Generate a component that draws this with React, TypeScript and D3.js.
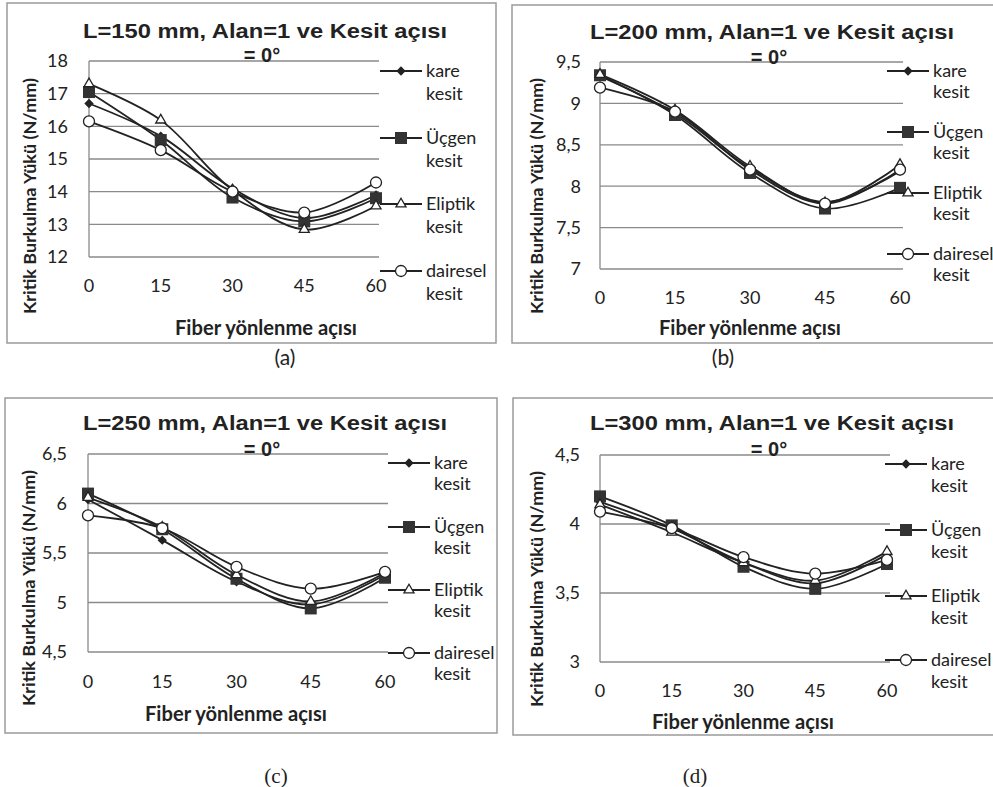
import React, { useEffect, useRef } from "react";
import * as d3 from "d3";

// fiber angles on the x axis
const angles = [0, 15, 30, 45, 60];
const seriesNames = ["kare", "Üçgen", "Eliptik", "dairesel"];

// L = 150 mm
const kareA = [16.7, 15.7, 14.1, 13.19, 13.9];
const ucgenA = [17.05, 15.58, 13.82, 13.09, 13.8];
const eliptikA = [17.3, 16.19, 14.05, 12.84, 13.56];
const daireselA = [16.15, 15.27, 14.0, 13.36, 14.28];

// L = 200 mm
const kareB = [9.33, 8.88, 8.22, 7.81, 8.18];
const ucgenB = [9.34, 8.86, 8.16, 7.73, 7.98];
const eliptikB = [9.35, 8.92, 8.24, 7.8, 8.26];
const daireselB = [9.19, 8.9, 8.2, 7.79, 8.2];

// L = 250 mm
const kareC = [6.04, 5.63, 5.21, 4.98, 5.28];
const ucgenC = [6.1, 5.74, 5.24, 4.94, 5.25];
const eliptikC = [6.06, 5.76, 5.28, 5.01, 5.3];
const daireselC = [5.88, 5.75, 5.36, 5.14, 5.31];

// L = 300 mm
const kareD = [4.16, 3.97, 3.72, 3.57, 3.78];
const ucgenD = [4.2, 3.99, 3.69, 3.53, 3.71];
const eliptikD = [4.14, 3.94, 3.72, 3.59, 3.8];
const daireselD = [4.09, 3.97, 3.76, 3.64, 3.74];

const ticksA = [12, 13, 14, 15, 16, 17, 18];
const ticksB = [7, 7.5, 8, 8.5, 9, 9.5];
const ticksC = [4.5, 5, 5.5, 6, 6.5];
const ticksD = [3, 3.5, 4, 4.5];

const panels = [
  {
    title: "L=150 mm, Alan=1 ve Kesit açısı", caption: "(a)", capSerif: false,
    box: [7, 3, 496, 343], x: [89, 376], y: [257, 61], ticks: ticksA,
    series: [kareA, ucgenA, eliptikA, daireselA],
    titleX: 265, titleY: 31, eqY: 55, tickRight: 68, xLabY: 286, xTitle: [266, 328],
    yTitle: [30, 196], legX: 380, legY: [71, 138, 204, 271], legGap: 23, cap: [285, 358],
  },
  {
    title: "L=200 mm, Alan=1 ve Kesit açısı", caption: "(b)", capSerif: false,
    box: [512, 5, 998, 343], x: [600, 900], y: [269, 62], ticks: ticksB,
    series: [kareB, ucgenB, eliptikB, daireselB],
    titleX: 772, titleY: 32, eqY: 57, tickRight: 581, xLabY: 298, xTitle: [750, 328],
    yTitle: [537, 196], legX: 887, legY: [71, 132, 193, 254], legGap: 21, cap: [723, 358],
  },
  {
    title: "L=250 mm, Alan=1 ve Kesit açısı", caption: "(c)", capSerif: true,
    box: [5, 398, 497, 733], x: [88, 385], y: [652, 454], ticks: ticksC,
    series: [kareC, ucgenC, eliptikC, daireselC],
    titleX: 265, titleY: 423, eqY: 449, tickRight: 67, xLabY: 682, xTitle: [236, 714],
    yTitle: [29, 588], legX: 388, legY: [463, 527, 590, 653], legGap: 21, cap: [276, 776],
  },
  {
    title: "L=300 mm, Alan=1 ve Kesit açısı", caption: "(d)", capSerif: true,
    box: [513, 398, 998, 735], x: [600, 887], y: [662, 455], ticks: ticksD,
    series: [kareD, ucgenD, eliptikD, daireselD],
    titleX: 772, titleY: 423, eqY: 449, tickRight: 580, xLabY: 691, xTitle: [743, 722],
    yTitle: [537, 589], legX: 885, legY: [464, 530, 596, 660], legGap: 22, cap: [695, 776],
  },
];

const ink = "#222";
const sans = "Lato, 'Open Sans', sans-serif";
const arial = "'Liberation Sans', Arial, sans-serif";

const drawMarker = (g, kind, x, y) => {
  if (kind === 0) {
    g.append("path").attr("d", d3.symbol(d3.symbolDiamond2, 56)())
      .attr("transform", `translate(${x},${y})`).attr("fill", ink);
  } else if (kind === 1) {
    g.append("rect").attr("x", x - 6).attr("y", y - 6).attr("width", 12).attr("height", 12)
      .attr("fill", "#333");
  } else if (kind === 2) {
    g.append("path").attr("d", d3.symbol(d3.symbolTriangle2, 72)())
      .attr("transform", `translate(${x},${y})`)
      .attr("fill", "#fff").attr("stroke", ink).attr("stroke-width", 1.3);
  } else {
    g.append("circle").attr("cx", x).attr("cy", y).attr("r", 5.5)
      .attr("fill", "#fff").attr("stroke", ink).attr("stroke-width", 1.3);
  }
};

const App = () => {
  const ref = useRef(null);

  useEffect(() => {
    const root = d3.select(ref.current);
    root.selectAll("*").remove();

    panels.forEach(p => {
      const g = root.append("g");
      const [bx0, by0, bx1, by1] = p.box;

      g.append("rect")
        .attr("x", bx0).attr("y", by0)
        .attr("width", bx1 - bx0).attr("height", by1 - by0)
        .attr("fill", "#fff").attr("stroke", "#9a9a9a").attr("stroke-width", 1.5);

      const xScale = d3.scaleLinear().domain([0, 60]).range(p.x);
      const yScale = d3.scaleLinear()
        .domain([p.ticks[0], p.ticks[p.ticks.length - 1]])
        .range(p.y);

      // horizontal gridlines
      g.selectAll("line.grid")
        .data(p.ticks)
        .enter().append("line")
          .attr("x1", p.x[0]).attr("x2", p.x[1] + 3)
          .attr("y1", d => yScale(d)).attr("y2", d => yScale(d))
          .attr("stroke", "#8a8a8a").attr("stroke-width", 1.3);

      // vertical axis
      g.append("line")
        .attr("x1", p.x[0]).attr("x2", p.x[0])
        .attr("y1", p.y[0]).attr("y2", p.y[1])
        .attr("stroke", "#8a8a8a").attr("stroke-width", 1.3);

      const fmt = d => String(d).replace(".", ",");

      g.selectAll("text.ytick")
        .data(p.ticks)
        .enter().append("text")
          .attr("x", p.tickRight).attr("y", d => yScale(d))
          .attr("dy", "0.35em").attr("text-anchor", "end")
          .attr("font-family", sans).attr("font-size", 18).attr("fill", ink)
          .text(fmt);

      g.selectAll("text.xtick")
        .data(angles)
        .enter().append("text")
          .attr("x", d => xScale(d)).attr("y", p.xLabY)
          .attr("dy", "0.35em").attr("text-anchor", "middle")
          .attr("font-family", sans).attr("font-size", 18).attr("fill", ink)
          .text(d => d);

      // series
      const line = d3.line()
        .x((d, i) => xScale(angles[i]))
        .y(d => yScale(d))
        .curve(d3.curveCatmullRom.alpha(0.5));

      p.series.forEach(vals => {
        g.append("path")
          .attr("d", line(vals))
          .attr("fill", "none").attr("stroke", ink).attr("stroke-width", 1.8);
      });
      p.series.forEach((vals, k) => {
        vals.forEach((v, i) => drawMarker(g, k, xScale(angles[i]), yScale(v)));
      });

      // title
      g.append("text")
        .attr("x", p.titleX).attr("y", p.titleY).attr("dy", "0.35em")
        .attr("text-anchor", "middle")
        .attr("font-family", arial)
        .attr("font-weight", "bold").attr("font-size", 20).attr("fill", ink)
        .attr("textLength", 364).attr("lengthAdjust", "spacingAndGlyphs")
        .text(p.title);
      g.append("text")
        .attr("x", p.titleX - 3).attr("y", p.eqY).attr("dy", "0.35em")
        .attr("text-anchor", "middle")
        .attr("font-family", arial)
        .attr("font-weight", "bold").attr("font-size", 20).attr("fill", ink)
        .text("= 0°");

      // axis titles
      g.append("text")
        .attr("x", p.xTitle[0]).attr("y", p.xTitle[1]).attr("dy", "0.35em")
        .attr("text-anchor", "middle")
        .attr("font-family", sans).attr("font-weight", "bold").attr("font-size", 20)
        .attr("fill", ink)
        .attr("textLength", 182).attr("lengthAdjust", "spacingAndGlyphs")
        .text("Fiber yönlenme açısı");
      g.append("text")
        .attr("transform", `translate(${p.yTitle[0]},${p.yTitle[1]}) rotate(-90)`)
        .attr("dy", "0.35em").attr("text-anchor", "middle")
        .attr("font-family", sans).attr("font-weight", "bold").attr("font-size", 17)
        .attr("fill", ink)
        .attr("textLength", 236).attr("lengthAdjust", "spacingAndGlyphs")
        .text("Kritik Burkulma Yükü (N/mm)");

      // legend
      seriesNames.forEach((name, k) => {
        const ly = p.legY[k];
        g.append("line")
          .attr("x1", p.legX).attr("x2", p.legX + 42)
          .attr("y1", ly).attr("y2", ly)
          .attr("stroke", ink).attr("stroke-width", 1.8);
        drawMarker(g, k, p.legX + 21, ly);
        [name, "kesit"].forEach((t, j) => {
          g.append("text")
            .attr("x", p.legX + 46).attr("y", ly + j * p.legGap).attr("dy", "0.35em")
            .attr("font-family", sans).attr("font-size", 18).attr("fill", ink)
            .text(t);
        });
      });

      // caption
      g.append("text")
        .attr("x", p.cap[0]).attr("y", p.cap[1]).attr("dy", "0.35em")
        .attr("text-anchor", "middle")
        .attr("font-family", p.capSerif ? "'Liberation Serif', serif" : sans)
        .attr("font-size", 21).attr("fill", ink)
        .text(p.caption);
    });
  }, []);

  return (
    <svg width={993} height={787}
      style={{ position: "absolute", left: 0, top: 0, background: "#fff" }}>
      <g ref={ref} />
    </svg>
  );
};

export default App;
